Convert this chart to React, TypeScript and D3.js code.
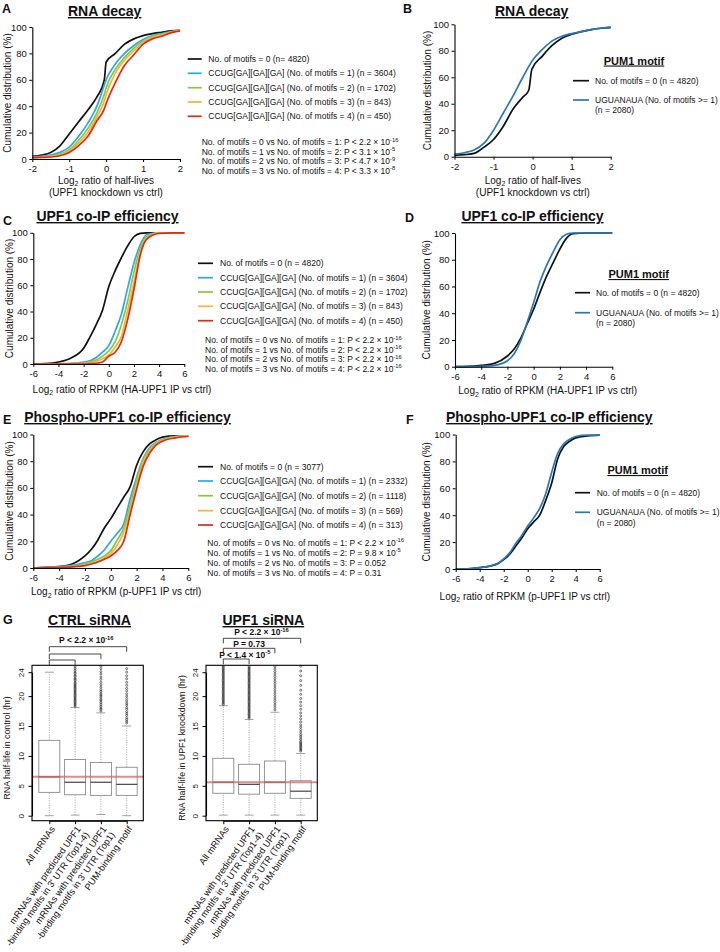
import React, { useEffect, useRef } from 'react';
import * as d3 from 'd3';

const FONT = "'Liberation Sans', Arial, Helvetica, sans-serif";

// ---------------- DATA ----------------
// Panel A (RNA decay, CCUG motifs) – x: log2 ratio, y: cumulative %
const A_X = [-2, -1.75, -1.5, -1.25, -1, -0.75, -0.5, -0.25, -0.05, 0, 0.25, 0.5, 0.75, 1, 1.25, 1.5, 1.75, 2];
const A_M0 = [2, 3, 5, 10, 19, 28, 37, 47, 60, 73.5, 80, 87, 91, 93.5, 95, 96, 97, 97.5];
const A_M1 = [1.5, 2, 3, 5, 9, 17, 27, 40, 56, 60, 72, 80, 86, 90.5, 93.5, 95, 96.5, 97.5];
const A_M2 = [1, 1.5, 2, 3.5, 7, 14, 23, 35, 49, 54, 68, 77, 84, 89.5, 93, 94.5, 96, 97.5];
const A_M3 = [1, 1.3, 2, 3, 6, 12, 20, 32, 44, 49, 65, 75, 82, 88.5, 92, 94, 96, 97.5];
const A_M4 = [1, 1.2, 1.5, 2.5, 5, 10, 17, 29, 38, 42, 58, 71, 79, 87, 91, 93, 95.5, 97];

// Panel B (RNA decay, PUM1 motif)
const B_X = [-2, -1.75, -1.5, -1.25, -1, -0.75, -0.5, -0.25, -0.1, -0.02, 0.25, 0.5, 0.75, 1, 1.25, 1.5, 1.75, 2];
const B_M0 = [1, 1.5, 2.5, 7, 13, 23, 36, 45, 50, 66, 76, 84, 89.5, 92.5, 94.5, 96, 97, 97.5];
const B_PUM = [2, 3, 5, 10, 20, 33, 46, 60, 68, 72, 81, 87.5, 91, 93, 94.5, 96, 97, 98];

// Panel C (UPF1 co-IP, CCUG motifs)
const C_X = [-6, -5, -4, -3, -2, -1.5, -1, -0.5, 0, 0.5, 1, 1.5, 2, 2.5, 3, 4, 5, 6];
const C_M0 = [0, 0.3, 1.5, 4.5, 12, 20.5, 30, 41, 59, 71, 81, 90, 97, 99.5, 100, 100, 100, 100];
const C_M1 = [0, 0, 0.2, 0.5, 1.5, 2.5, 5, 9, 14, 25, 38, 58, 77, 91, 98.5, 100, 100, 100];
const C_M2 = [0, 0, 0.1, 0.3, 0.5, 1.5, 3, 6, 10, 17, 30, 48, 70, 88, 97, 100, 100, 100];
const C_M3 = [0, 0, 0, 0.2, 0.3, 1, 2, 4, 7, 13, 21, 41, 62, 85, 96, 100, 100, 100];
const C_M4 = [0, 0, 0, 0, 0, 0.3, 0.5, 1.5, 6, 9, 17, 34, 57, 83, 95, 99.5, 100, 100];

// Panel D (UPF1 co-IP, PUM1 motif)
const D_X = [-6, -5, -4, -3, -2, -1.5, -1, -0.5, 0, 0.5, 1, 1.5, 2, 2.5, 3, 4, 5, 6];
const D_M0 = [0, 0.2, 1, 2.5, 8, 13, 21, 32, 43, 56, 68, 78, 88, 96, 99.5, 100, 100, 100];
const D_PUM = [0, 0, 0.3, 1, 4.5, 9.5, 19, 33, 48, 64, 76, 86, 95, 99, 100, 100, 100, 100];

// Panel E (Phospho-UPF1 co-IP, CCUG motifs)
const E_X = [-6, -5, -4, -3, -2.5, -2, -1.5, -1, -0.5, 0, 0.5, 1, 1.5, 2, 2.5, 3, 3.5, 4, 5, 6];
const E_M0 = [0, 0.5, 1, 3, 5.5, 9, 14, 21, 30, 37, 45, 53, 61, 77, 87, 93, 96, 98, 99, 99];
const E_M1 = [0, 0.3, 1, 2, 3, 4, 5.5, 9, 13.5, 20, 26, 33, 52, 68, 82, 90, 94, 96.5, 98.5, 99];
const E_M2 = [0, 0.2, 0.6, 1.2, 2, 3, 4.5, 6.5, 9, 13, 21, 30, 47, 66, 81, 89, 93.5, 96, 98.5, 99];
const E_M3 = [0, 0.2, 0.5, 1, 1.5, 2.5, 3.5, 5, 7.5, 11, 17, 27, 43, 62, 79, 88, 93, 95.5, 98, 99];
const E_M4 = [0, 0.2, 0.4, 0.8, 1.2, 1.8, 3, 4.5, 6.5, 9, 13, 20, 40, 59, 76, 86, 92, 95, 97.5, 98.5];

// Panel F (Phospho-UPF1 co-IP, PUM1 motif)
const F_X = [-6, -5, -4, -3, -2.5, -2, -1.5, -1, -0.5, 0, 0.5, 1, 1.5, 2, 2.5, 3, 3.5, 4, 5, 6];
const F_M0 = [0, 0.2, 1, 2.5, 4, 7, 11, 17, 23, 30, 35, 40, 51, 64, 82, 91, 95, 97.5, 99, 99.5];
const F_PUM = [0, 0.2, 1, 2.5, 4, 7.5, 12, 19, 25, 32, 38, 45, 56, 72, 86, 93, 96.5, 98.5, 99.5, 99.5];

// Tick values
const TICKS_Y = [0, 20, 40, 60, 80, 100];
const TICKS_X_AB = [-2, -1, 0, 1, 2];
const TICKS_X_CF = [-6, -4, -2, 0, 2, 4, 6];

// Legend texts
const MOTIF_LABELS = [
  'No. of motifs = 0',
  'CCUG[GA][GA][GA] (No. of motifs = 1)',
  'CCUG[GA][GA][GA] (No. of motifs = 2)',
  'CCUG[GA][GA][GA] (No. of motifs = 3)',
  'CCUG[GA][GA][GA] (No. of motifs = 4)',
];
const A_N = ['(n= 4820)', '(n = 3604)', '(n = 1702)', '(n = 843)', '(n = 450)'];
const C_N = ['(n = 4820)', '(n = 3604)', '(n = 1702)', '(n = 843)', '(n = 450)'];
const E_N = ['(n = 3077)', '(n = 2332)', '(n = 1118)', '(n = 569)', '(n = 313)'];
const COMPARISONS = [
  'No. of motifs = 0 vs No. of motifs = 1',
  'No. of motifs = 1 vs No. of motifs = 2',
  'No. of motifs = 2 vs No. of motifs = 3',
  'No. of motifs = 3 vs No. of motifs = 4',
];
const A_P = ['P < 2.2 \u00d7 10', 'P < 3.1 \u00d7 10', 'P < 4.7 \u00d7 10', 'P < 3.3 \u00d7 10'];
const A_EXP = ['-16', '-5', '-9', '-8'];
const C_P = ['P < 2.2 \u00d7 10', 'P < 2.2 \u00d7 10', 'P < 2.2 \u00d7 10', 'P < 2.2 \u00d7 10'];
const C_EXP = ['-16', '-16', '-16', '-16'];
const E_P = ['P < 2.2 \u00d7 10', 'P = 9.8 \u00d7 10', 'P = 0.052', 'P = 0.31'];
const E_EXP = ['-16', '-5', '', ''];
const PUM_LABELS = ['No. of motifs = 0 (n = 4820)', 'UGUANAUA (No. of motifs >= 1)', '(n = 2080)'];

// Panel G (box plots, RNA half-life in hr)
const G_CATS = [
  ['All mRNAs'],
  ['mRNAs with predicted UPF1', '-binding motifs in 3\' UTR (Top1-4)'],
  ['mRNAs with predicted UPF1', '-binding motifs in 3\' UTR (Top1)'],
  ['PUM-binding motif'],
];
const G_TICKS = [0, 5, 10, 15, 20, 24];
const CTRL_LO = [0, 0.1, 0.2, 0];
const CTRL_Q1 = [3.9, 3.5, 3.4, 3.4];
const CTRL_MED = [6.5, 5.6, 5.6, 5.25];
const CTRL_Q3 = [12.6, 9.4, 8.9, 8.1];
const CTRL_HI = [24, 18.1, 17.2, 15];
const CTRL_OUT = [
  [],
  [18.3, 18.5, 18.7, 18.9, 19.1, 19.3, 19.5, 19.7, 19.9, 20.1, 20.3, 20.5, 20.7, 20.9, 21.1, 21.3, 21.5, 21.7, 21.9, 22.1, 22.3, 22.6, 22.8, 23.0, 23.3, 23.5, 23.8, 24.0, 24.3, 24.6, 24.9],
  [17.5, 17.8, 18.0, 18.3, 18.6, 18.9, 19.2, 19.4, 19.7, 20.0, 20.2, 20.5, 20.8, 21.1, 21.5, 21.9, 22.3, 22.8, 23.2, 23.7, 24.1, 24.6, 25.0],
  [15.5, 15.8, 16.1, 16.4, 16.8, 17.1, 17.4, 17.8, 18.1, 18.5, 18.8, 19.2, 19.6, 20.0, 20.4, 20.9, 21.3, 21.8, 22.3, 22.9, 23.4, 24.0, 24.6],
];
const UPF1_LO = [0.1, 0.1, 0.1, 0.1];
const UPF1_Q1 = [3.75, 3.6, 3.75, 2.9];
const UPF1_MED = [5.6, 5.25, 5.6, 4.1];
const UPF1_Q3 = [9.6, 8.6, 9.15, 5.85];
const UPF1_HI = [18.4, 16.1, 17.3, 10.4];
const UPF1_OUT = [
  [18.6, 18.8, 19.0, 19.2, 19.4, 19.6, 19.8, 20.0, 20.2, 20.4, 20.6, 20.8, 21.0, 21.2, 21.4, 21.6, 21.8, 22.0, 22.2, 22.4, 22.6, 22.8, 23.0, 23.2, 23.4, 23.6, 23.8, 24.0, 24.2, 24.4, 24.6, 24.8, 25.0],
  [16.3, 16.5, 16.7, 16.9, 17.1, 17.3, 17.5, 17.7, 17.9, 18.1, 18.3, 18.5, 18.7, 18.9, 19.1, 19.3, 19.5, 19.7, 19.9, 20.1, 20.3, 20.5, 20.7, 20.9, 21.1, 21.3, 21.5, 21.7, 21.9, 22.1, 22.3, 22.5, 22.7, 22.9, 23.1, 23.3, 23.5, 23.7, 23.9, 24.1, 24.3, 24.5, 24.7, 24.9],
  [17.7, 18.1, 18.5, 18.9, 19.3, 19.7, 20.1, 20.5, 20.9, 21.3, 21.7, 22.1, 22.5, 22.9, 23.3, 23.7, 24.1, 24.5, 24.9],
  [10.8, 11.0, 11.2, 11.4, 11.6, 11.8, 12.0, 12.2, 12.4, 12.7, 13.0, 13.3, 13.6, 14.0, 14.4, 14.8, 15.2, 15.7, 16.2, 16.7, 17.2, 17.8, 18.4, 19.0, 19.6, 20.3, 21.0, 21.8, 22.6, 23.4, 24.2, 25.0],
];

// ---------------- STYLE ----------------
const C0 = '#111111';
const C1 = '#29abe2';
const C2 = '#8cc63f';
const C3 = '#f9b233';
const C4 = '#dd2a1b';
const CPUM = '#2878b8';
const MOTIF_COLORS = [C0, C1, C2, C3, C4];

// ---------------- COMPONENTS ----------------
function Axis({ scale, orient, x, y, ticks, size = 3, pad = 2.5, fs = 9.5, fmt, rot }: any) {
  const ref = useRef<SVGGElement>(null);
  useEffect(() => {
    const ax = orient === 'left' ? d3.axisLeft(scale) : d3.axisBottom(scale);
    ax.tickSizeInner(size).tickSizeOuter(0).tickPadding(pad);
    if (ticks) ax.tickValues(ticks);
    ax.tickFormat(fmt || ((d: any) => String(d)));
    const g = d3.select(ref.current as any);
    g.call(ax as any);
    g.attr('font-family', FONT).attr('font-size', fs);
    g.select('.domain').attr('stroke-width', 1.1).attr('stroke', '#000');
    g.selectAll('.tick line').attr('stroke-width', 1).attr('stroke', '#000');
    g.selectAll('.tick text').attr('fill', '#111');
    if (rot) {
      g.selectAll('.tick text')
        .attr('x', null)
        .attr('dy', null)
        .attr('text-anchor', 'middle')
        .attr('transform', `translate(${-rot},0) rotate(-90)`);
    }
  });
  return <g ref={ref} transform={`translate(${x},${y})`} />;
}

function Log2Label({ x, y, rest }: any) {
  return (
    <text x={x} y={y} textAnchor="middle" fontSize={10} fill="#111">
      <tspan>Log</tspan>
      <tspan fontSize={7} dy={2.5}>2</tspan>
      <tspan dy={-2.5}>{rest}</tspan>
    </text>
  );
}

function Ecdf({ left, right, top, bottom, domain, xticks, xs, series, colors }: any) {
  const x = d3.scaleLinear().domain(domain).range([left, right]);
  const y = d3.scaleLinear().domain([0, 100]).range([bottom, top]);
  const line = d3
    .line<[number, number]>()
    .x((d) => x(d[0]))
    .y((d) => y(d[1]))
    .curve(d3.curveMonotoneX);
  return (
    <g>
      {series.map((ys: number[], i: number) => (
        <path
          key={i}
          d={line(xs.map((v: number, j: number) => [v, ys[j]] as [number, number])) || ''}
          fill="none"
          stroke={colors[i]}
          strokeWidth={1.7}
          strokeLinejoin="round"
        />
      ))}
      <Axis scale={y} orient="left" x={left} y={0} ticks={TICKS_Y} />
      <Axis scale={x} orient="bottom" x={0} y={bottom} ticks={xticks} pad={3.3} />
    </g>
  );
}

function YLabel({ x, y, text, fs = 10 }: any) {
  return (
    <text transform={`translate(${x},${y}) rotate(-90)`} textAnchor="middle" fontSize={fs} fill="#111">
      {text}
    </text>
  );
}

function MotifLegend({ x1, x2, tx, rows, ns, px, prow, pvals, pexp }: any) {
  return (
    <g fontSize={8.5} fill="#111">
      {MOTIF_LABELS.map((lab, i) => (
        <g key={i}>
          <line x1={x1} x2={x2} y1={rows[i]} y2={rows[i]} stroke={MOTIF_COLORS[i]} strokeWidth={1.7} />
          <text x={tx} y={rows[i] + 3}>
            {lab + ' ' + ns[i]}
          </text>
        </g>
      ))}
      {COMPARISONS.map((c, i) => (
        <text key={'p' + i} x={px} y={prow[i] + 3}>
          {c + ': ' + pvals[i]}
          {pexp[i] ? (
            <tspan fontSize={5.8} dy={-3.5}>
              {pexp[i]}
            </tspan>
          ) : null}
        </text>
      ))}
    </g>
  );
}

function PumLegend({ cx, ty, x1, x2, tx, r0, r1, r2 }: any) {
  return (
    <g fill="#111">
      <text x={cx} y={ty} textAnchor="middle" fontSize={11} fontWeight="bold" style={{ textDecoration: 'underline' }}>
        PUM1 motif
      </text>
      <line x1={x1} x2={x2} y1={r0} y2={r0} stroke={C0} strokeWidth={1.7} />
      <text x={tx} y={r0 + 3} fontSize={8.5}>
        {PUM_LABELS[0]}
      </text>
      <line x1={x1} x2={x2} y1={r1} y2={r1} stroke={CPUM} strokeWidth={1.7} />
      <text x={tx} y={r1 + 3} fontSize={8.5}>
        {PUM_LABELS[1]}
      </text>
      <text x={tx} y={r2 + 3} fontSize={8.5}>
        {PUM_LABELS[2]}
      </text>
    </g>
  );
}

function BoxPanel({ left, right, lo, q1, med, q3, hi, outs, brackets, ylabel, ylx }: any) {
  const top = 665.3;
  const bottom = 820.7;
  const y = d3.scaleLinear().domain([0, 24]).range([815.7, 672.2]);
  const x = d3
    .scalePoint<number>()
    .domain([0, 1, 2, 3])
    .range([left + 17.3, right - 16.6]);
  const hw = 10.5;
  const cap = 4.5;
  return (
    <g>
      {[0, 1, 2, 3].map((i) => {
        const cx = x(i) as number;
        return (
          <g key={i}>
            <line x1={cx} x2={cx} y1={y(q3[i])} y2={y(hi[i])} stroke="#999" strokeWidth={0.8} strokeDasharray="1.2,1.2" />
            <line x1={cx} x2={cx} y1={y(lo[i])} y2={y(q1[i])} stroke="#999" strokeWidth={0.8} strokeDasharray="1.2,1.2" />
            <line x1={cx - cap} x2={cx + cap} y1={y(hi[i])} y2={y(hi[i])} stroke="#999" strokeWidth={0.9} />
            <line x1={cx - cap} x2={cx + cap} y1={y(lo[i])} y2={y(lo[i])} stroke="#999" strokeWidth={0.9} />
            <rect x={cx - hw} width={2 * hw} y={y(q3[i])} height={y(q1[i]) - y(q3[i])} fill="#fff" stroke="#8a8a8a" strokeWidth={0.9} />
            <line x1={cx - hw} x2={cx + hw} y1={y(med[i])} y2={y(med[i])} stroke="#333" strokeWidth={1.1} />
            {outs[i].map((v: number, k: number) => (
              <circle key={k} cx={cx} cy={y(v)} r={1} fill="none" stroke="#222" strokeWidth={0.6} />
            ))}
          </g>
        );
      })}
      <line x1={left} x2={right} y1={y(med[0])} y2={y(med[0])} stroke="#e06060" strokeOpacity={0.75} strokeWidth={2} />
      <rect x={left} y={top} width={right - left} height={bottom - top} fill="none" stroke="#000" strokeWidth={1.1} />
      <Axis scale={y} orient="left" x={left} y={0} ticks={G_TICKS} fs={8} size={3.5} rot={8} />
      <Axis scale={x} orient="bottom" x={0} y={bottom} ticks={[0, 1, 2, 3]} fmt={() => ''} size={3.5} />
      {G_CATS.map((lines, i) => (
        <text
          key={'c' + i}
          transform={`translate(${(x(i) as number) + 6},829) rotate(-55)`}
          textAnchor="end"
          fontSize={9.2}
          fill="#111"
        >
          {lines.map((l, k) => (
            <tspan key={k} x={0} dy={k === 0 ? 0 : '1.1em'}>
              {l}
            </tspan>
          ))}
        </text>
      ))}
      {brackets.map((b: any, i: number) => (
        <g key={'b' + i}>
          <path
            d={`M${x(0)},${b.y + 5}V${b.y}H${x(b.to)}V${b.y + 5}`}
            fill="none"
            stroke="#333"
            strokeWidth={0.9}
          />
          {b.text ? (
            <text x={b.lx} y={b.ly} textAnchor="middle" fontSize={8.5} fontWeight="bold" fill="#111">
              {b.text}
              {b.exp ? (
                <tspan fontSize={5.8} dy={-3.5}>
                  {b.exp}
                </tspan>
              ) : null}
            </text>
          ) : null}
        </g>
      ))}
      <YLabel x={ylx} y={748} text={ylabel} fs={8.8} />
    </g>
  );
}

export default function App() {
  const letters: [string, number, number][] = [
    ['A', 2, 13],
    ['B', 403, 13],
    ['C', 3, 225],
    ['D', 405, 221.5],
    ['E', 3, 424],
    ['F', 406, 424],
    ['G', 3, 624],
  ];
  const titles: [string, number, number][] = [
    ['RNA decay', 104.7, 16],
    ['RNA decay', 531.7, 16],
    ['UPF1 co-IP efficiency', 107.5, 221],
    ['UPF1 co-IP efficiency', 532.5, 221],
    ['Phospho-UPF1 co-IP efficiency', 127.5, 422],
    ['Phospho-UPF1 co-IP efficiency', 549.3, 422],
    ['CTRL siRNA', 89.5, 625],
    ['UPF1 siRNA', 263.3, 625],
  ];
  const ctrlBrackets = [
    { to: 3, y: 646.7, text: 'P < 2.2 \u00d7 10', exp: '-16', lx: 86.3, ly: 643 },
    { to: 2, y: 654 },
    { to: 1, y: 660 },
  ];
  const upf1Brackets = [
    { to: 3, y: 638.3, text: 'P < 2.2 \u00d7 10', exp: '-16', lx: 261.5, ly: 635 },
    { to: 2, y: 648.3, text: 'P = 0.73', lx: 249, ly: 646.5 },
    { to: 1, y: 659, text: 'P < 1.4 \u00d7 10', exp: '-5', lx: 244.8, ly: 657.5 },
  ];
  return (
    <svg
      width={720}
      height={952}
      style={{ position: 'absolute', left: 0, top: 0, background: '#fff' }}
      fontFamily={FONT}
    >
      <rect x={0} y={0} width={720} height={952} fill="#fff" />
      {letters.map(([t, x, y]) => (
        <text key={t} x={x} y={y} fontSize={12.5} fontWeight="bold" fill="#111">
          {t}
        </text>
      ))}
      {titles.map(([t, x, y], i) => (
        <text key={i} x={x} y={y} textAnchor="middle" fontSize={14} fontWeight="bold" fill="#111" style={{ textDecoration: 'underline' }}>
          {t}
        </text>
      ))}

      {/* Panel A */}
      <Ecdf left={32.3} right={180} top={27} bottom={159} domain={[-2, 2]} xticks={TICKS_X_AB} xs={A_X}
        series={[A_M0, A_M1, A_M2, A_M3, A_M4]} colors={MOTIF_COLORS} />
      <YLabel x={11} y={93} text="Cumulative distribution (%)" />
      <Log2Label x={106} y={183.5} rest=" ratio of half-lives" />
      <text x={106} y={196} textAnchor="middle" fontSize={10} fill="#111">(UPF1 knockdown vs ctrl)</text>
      <MotifLegend x1={187.7} x2={201.7} tx={208.3} rows={[59, 73.3, 87.7, 102, 116.3]} ns={A_N}
        px={201.7} prow={[142, 151.5, 161, 170.5]} pvals={A_P} pexp={A_EXP} />

      {/* Panel B */}
      <Ecdf left={454.5} right={610.7} top={24.3} bottom={156.7} domain={[-2, 2]} xticks={TICKS_X_AB} xs={B_X}
        series={[B_M0, B_PUM]} colors={[C0, CPUM]} />
      <YLabel x={431} y={90.5} text="Cumulative distribution (%)" />
      <Log2Label x={532.8} y={183.5} rest=" ratio of half-lives" />
      <text x={532.8} y={196} textAnchor="middle" fontSize={10} fill="#111">(UPF1 knockdown vs ctrl)</text>
      <PumLegend cx={634} ty={64.5} x1={573} x2={589} tx={595} r0={80.7} r1={100} r2={109.7} />

      {/* Panel C */}
      <Ecdf left={33.3} right={184.3} top={232.8} bottom={364} domain={[-6, 6]} xticks={TICKS_X_CF} xs={C_X}
        series={[C_M0, C_M1, C_M2, C_M3, C_M4]} colors={MOTIF_COLORS} />
      <YLabel x={12.5} y={298.4} text="Cumulative distribution (%)" />
      <Log2Label x={122} y={392.7} rest=" ratio of RPKM (HA-UPF1 IP vs ctrl)" />
      <MotifLegend x1={198} x2={213} tx={220} rows={[263.3, 277.7, 292, 306.3, 320.7]} ns={C_N}
        px={205} prow={[340, 349.5, 359, 368.5]} pvals={C_P} pexp={C_EXP} />

      {/* Panel D */}
      <Ecdf left={455} right={612.3} top={233} bottom={366.7} domain={[-6, 6]} xticks={TICKS_X_CF} xs={D_X}
        series={[D_M0, D_PUM]} colors={[C0, CPUM]} />
      <YLabel x={429.5} y={299.8} text="Cumulative distribution (%)" />
      <Log2Label x={547.7} y={394} rest=" ratio of RPKM (HA-UPF1 IP vs ctrl)" />
      <PumLegend cx={638.7} ty={278} x1={575} x2={590} tx={596} r0={292.7} r1={312.7} r2={322.7} />

      {/* Panel E */}
      <Ecdf left={33.3} right={188.3} top={434.5} bottom={568} domain={[-6, 6]} xticks={TICKS_X_CF} xs={E_X}
        series={[E_M0, E_M1, E_M2, E_M3, E_M4]} colors={MOTIF_COLORS} />
      <YLabel x={12.5} y={501} text="Cumulative distribution (%)" />
      <Log2Label x={116.2} y={595} rest=" ratio of RPKM (p-UPF1 IP vs ctrl)" />
      <MotifLegend x1={198} x2={213} tx={220} rows={[466.7, 481, 495.7, 510.7, 525]} ns={E_N}
        px={207.3} prow={[542.7, 552.7, 562.7, 572.7]} pvals={E_P} pexp={E_EXP} />

      {/* Panel F */}
      <Ecdf left={455.7} right={599.7} top={434.5} bottom={569} domain={[-6, 6]} xticks={TICKS_X_CF} xs={F_X}
        series={[F_M0, F_PUM]} colors={[C0, CPUM]} />
      <YLabel x={429.5} y={501.8} text="Cumulative distribution (%)" />
      <Log2Label x={524.8} y={599.5} rest=" ratio of RPKM (p-UPF1 IP vs ctrl)" />
      <PumLegend cx={637.7} ty={474} x1={575} x2={590} tx={596.7} r0={492.7} r1={512.3} r2={522.7} />

      {/* Panel G */}
      <BoxPanel left={32} right={143.3} lo={CTRL_LO} q1={CTRL_Q1} med={CTRL_MED} q3={CTRL_Q3} hi={CTRL_HI}
        outs={CTRL_OUT} brackets={ctrlBrackets} ylabel="RNA half-life in control (hr)" ylx={10.3} />
      <BoxPanel left={206} right={317.3} lo={UPF1_LO} q1={UPF1_Q1} med={UPF1_MED} q3={UPF1_Q3} hi={UPF1_HI}
        outs={UPF1_OUT} brackets={upf1Brackets} ylabel="RNA half-life in UPF1 knockdown (hr)" ylx={184.7} />
    </svg>
  );
}
